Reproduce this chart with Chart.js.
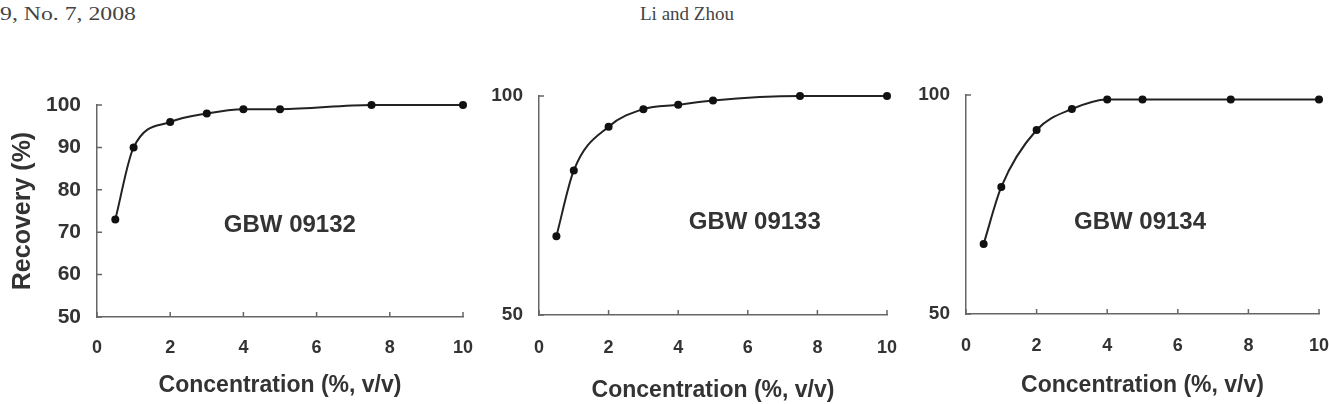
<!DOCTYPE html>
<html>
<head>
<meta charset="utf-8">
<script src="https://cdn.jsdelivr.net/npm/chart.js@4.4.1/dist/chart.umd.min.js"></script>
<style>
    body { margin: 0; width: 1329px; height: 404px; background: #fff; position: relative; overflow: hidden; }
    .hdr { position: absolute; top: 3px; font-family: "Liberation Serif", "Times New Roman", serif; font-size: 19px; color: #444; white-space: nowrap; }
    .panel { position: absolute; }
</style>
</head>
<body>
<div class="hdr" style="left:0; transform: scaleX(1.25); transform-origin: left top;">9, No. 7, 2008</div>
<div class="hdr" style="left:640px;">Li and Zhou</div>

<div class="panel" style="left:0; top:80px; width:480px; height:324px;"><canvas id="c1"></canvas></div>
<div class="panel" style="left:480px; top:80px; width:430px; height:324px;"><canvas id="c2"></canvas></div>
<div class="panel" style="left:910px; top:80px; width:419px; height:324px;"><canvas id="c3"></canvas></div>

<script>
// Concentration (%, v/v)
const concentration = [0.5, 1, 2, 3, 4, 5, 7.5, 10];

// Recovery (%)
const recovery09132 = [73, 90, 96, 98, 99, 99, 100, 100];
const recovery09133 = [68, 83, 93, 97, 98, 99, 100, 100];
const recovery09134 = [66, 79, 92, 96.8, 99, 99, 99, 99];

const sampleNames = ['GBW 09132', 'GBW 09133', 'GBW 09134'];

const textColor = '#333';
const axisColor = '#666';
const sans = '"Liberation Sans", Arial, sans-serif';

// short tick marks pointing into the plot area
const innerTicks = {
    id: 'innerTicks',
    beforeDatasetsDraw(chart) {
        const ctx = chart.ctx;
        const { x, y } = chart.scales;
        ctx.save();
        ctx.strokeStyle = axisColor;
        ctx.lineWidth = 1.5;
        ctx.beginPath();
        x.ticks.forEach(t => {
            const px = x.getPixelForValue(t.value);
            ctx.moveTo(px, y.bottom);
            ctx.lineTo(px, y.bottom - 5);
        });
        y.ticks.forEach(t => {
            const py = y.getPixelForValue(t.value);
            ctx.moveTo(x.left, py);
            ctx.lineTo(x.left + 5, py);
        });
        ctx.stroke();
        ctx.restore();
    }
};

// sample name written inside the plot
const sampleLabel = {
    id: 'sampleLabel',
    afterDraw(chart, args, opts) {
        const ctx = chart.ctx;
        ctx.save();
        ctx.font = 'bold 24px ' + sans;
        ctx.fillStyle = textColor;
        ctx.textAlign = 'center';
        ctx.textBaseline = 'middle';
        ctx.fillText(opts.text, chart.scales.x.getPixelForValue(opts.x), chart.scales.y.getPixelForValue(opts.y));
        ctx.restore();
    }
};

function makeChart(id, values, name, cfg) {
    const ctx = document.getElementById(id).getContext('2d');
    return new Chart(ctx, {
        type: 'scatter',
        data: {
            datasets: [{
                data: concentration.map((c, i) => ({ x: c, y: values[i] })),
                showLine: true,
                clip: false,
                borderColor: '#222',
                borderWidth: 2,
                cubicInterpolationMode: 'monotone',
                pointRadius: 4,
                pointBackgroundColor: '#111',
                pointBorderColor: '#111',
                pointBorderWidth: 0
            }]
        },
        options: {
            responsive: true,
            maintainAspectRatio: false,
            animation: false,
            events: [],
            layout: { autoPadding: false, padding: { top: cfg.padTop, right: cfg.padRight, left: 0, bottom: 0 } },
            plugins: {
                legend: { display: false },
                tooltip: { enabled: false },
                sampleLabel: { text: name, x: cfg.labelX, y: cfg.labelY }
            },
            scales: {
                x: {
                    type: 'linear',
                    min: 0,
                    max: 10,
                    ticks: {
                        stepSize: 2,
                        color: textColor,
                        padding: cfg.xTickPad,
                        maxRotation: 0,
                        font: { family: sans, size: 18, weight: 'bold' }
                    },
                    grid: { display: false, drawTicks: false },
                    border: { display: true, color: axisColor, width: 1.5 },
                    title: {
                        display: true,
                        text: 'Concentration (%, v/v)',
                        color: textColor,
                        padding: { top: 0, bottom: cfg.xTitlePad },
                        font: { family: sans, size: 23, weight: 'bold' }
                    },
                    afterFit(scale) {
                        scale.height = cfg.xHeight;
                        scale.paddingLeft = 0;
                        scale.paddingRight = 0;
                    }
                },
                y: {
                    type: 'linear',
                    min: 50,
                    max: 100,
                    ticks: {
                        stepSize: cfg.yStep,
                        color: textColor,
                        padding: 16,
                        font: { family: sans, size: cfg.yTickSize, weight: 'bold' }
                    },
                    grid: { display: false, drawTicks: false },
                    border: { display: true, color: axisColor, width: 1.5 },
                    title: {
                        display: cfg.yTitle,
                        text: 'Recovery (%)',
                        color: textColor,
                        padding: { top: 8, bottom: 0 },
                        font: { family: sans, size: 25, weight: 'bold' }
                    },
                    afterFit(scale) {
                        scale.width = cfg.yWidth;
                        scale.paddingTop = 0;
                        scale.paddingBottom = 0;
                    }
                }
            }
        },
        plugins: [innerTicks, sampleLabel]
    });
}

makeChart('c1', recovery09132, sampleNames[0], {
    padTop: 25, padRight: 17, yWidth: 97, xHeight: 87, xTickPad: 20, xTitlePad: 5,
    yStep: 10, yTickSize: 21, yTitle: true, labelX: 5.27, labelY: 71.5
});
makeChart('c2', recovery09133, sampleNames[1], {
    padTop: 16, padRight: 23, yWidth: 59, xHeight: 89, xTickPad: 22, xTitlePad: 0,
    yStep: 50, yTickSize: 19, yTitle: false, labelX: 6.2, labelY: 71.2
});
makeChart('c3', recovery09134, sampleNames[2], {
    padTop: 15, padRight: 10, yWidth: 56, xHeight: 90, xTickPad: 21, xTitlePad: 5,
    yStep: 50, yTickSize: 19, yTitle: false, labelX: 4.93, labelY: 71
});
</script>
</body>
</html>
